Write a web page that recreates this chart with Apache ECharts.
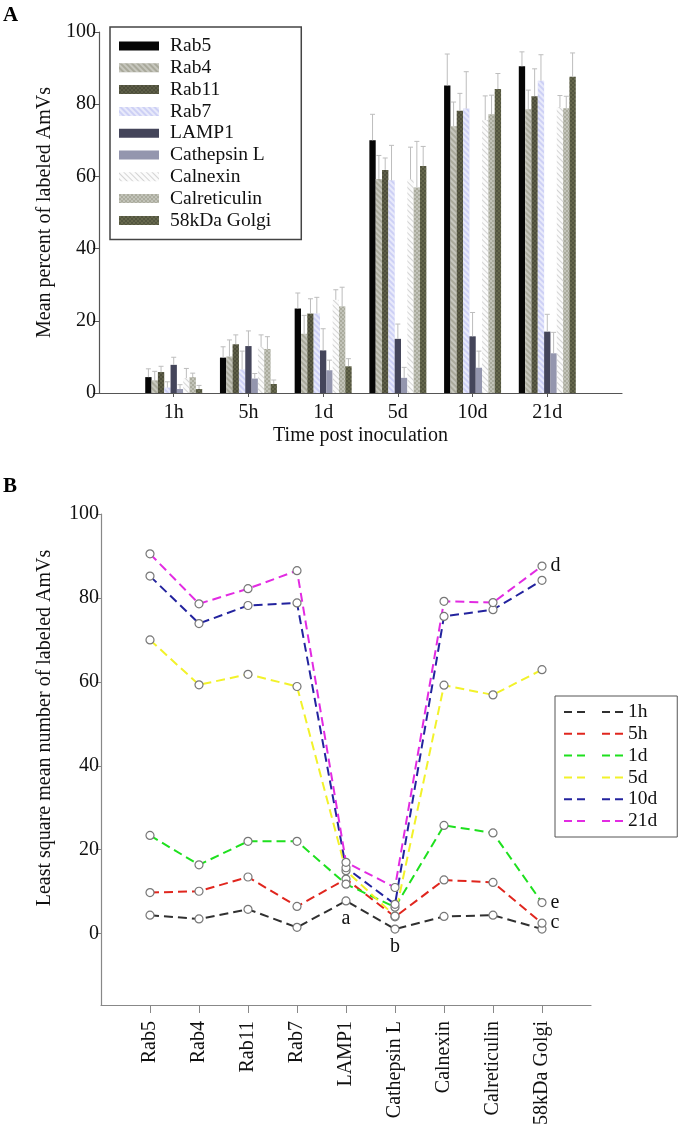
<!DOCTYPE html>
<html>
<head>
<meta charset="utf-8">
<script src="https://cdn.jsdelivr.net/npm/echarts@6/dist/echarts.min.js"></script>
<style>html,body{margin:0;padding:0;background:#fff}#c{width:678px;height:1128px}</style>
</head>
<body>
<div id="c"></div>
<script>
// ---- data ----
const markers = ['Rab5','Rab4','Rab11','Rab7','LAMP1','Cathepsin L','Calnexin','Calreticulin','58kDa Golgi'];
const times = ['1h','5h','1d','5d','10d','21d'];
const yTicks = [0, 20, 40, 60, 80, 100];
// mean values per time point, in marker order
const v1h  = [4.4, 3.5, 5.8, 1.5, 7.8, 1.1, 4.1, 4.4, 1.1];
const v5h  = [9.8, 10.1, 13.5, 6.5, 13.0, 4.0, 12.8, 12.2, 2.5];
const v1d  = [23.4, 16.4, 22.0, 22.0, 11.8, 6.3, 25.8, 24.0, 7.4];
const v5d  = [70.0, 59.3, 61.8, 58.9, 15.0, 4.2, 59.2, 56.9, 62.9];
const v10d = [85.2, 73.9, 78.2, 78.8, 15.7, 7.0, 75.6, 77.2, 84.2];
const v21d = [90.5, 78.6, 82.2, 86.5, 17.0, 11.0, 79.2, 78.9, 87.6];
// upper error bars (panel A)
const e1h  = [2.3, 2.5, 1.6, 1.6, 2.1, 1.2, 2.7, 1.1, 1.0];
const e5h  = [3.0, 4.6, 2.6, 5.1, 4.2, 1.4, 3.3, 3.4, 1.1];
const e1d  = [4.3, 5.1, 4.1, 4.5, 6.0, 2.8, 2.8, 5.3, 2.1];
const e5d  = [7.2, 6.5, 3.3, 9.7, 4.1, 2.9, 8.9, 12.8, 5.4];
const e10d = [8.7, 6.7, 4.8, 10.2, 6.6, 4.6, 6.7, 5.3, 4.3];
const e21d = [4.0, 5.3, 7.6, 7.2, 4.8, 5.8, 3.2, 3.3, 6.6];
// letter annotations in panel B: [time, marker, text]
const notes = [['1h','LAMP1','a'], ['1h','Cathepsin L','b'], ['5h','58kDa Golgi','c'], ['21d','58kDa Golgi','d'], ['1d','58kDa Golgi','e']];

// ---- build ----
const timeVals = [v1h, v5h, v1d, v5d, v10d, v21d];
const timeErrs = [e1h, e5h, e1d, e5d, e10d, e21d];
const FONT = 'Liberation Serif';
const BW = 6.33;

const barStyles = [
  {color:'#060606'},
  {color:'#a9a99b', decal:{symbol:'rect', dashArrayX:[1,0], dashArrayY:[2,2], rotation:Math.PI/4, color:'rgba(255,255,255,0.35)'}},
  {color:'#5e5f48', decal:{symbol:'rect', dashArrayX:[[2,2],[0,2,2,0]], dashArrayY:[2,0], color:'rgba(0,0,0,0.18)'}},
  {color:'#cdd0f5', decal:{symbol:'rect', dashArrayX:[1,0], dashArrayY:[2,2], rotation:Math.PI/4, color:'rgba(255,255,255,0.55)'}},
  {color:'#44455a'},
  {color:'#9496ae'},
  {color:'#fbfbfb', decal:{symbol:'rect', dashArrayX:[1,0], dashArrayY:[1,3], rotation:Math.PI/4, color:'#d4d4d4'}},
  {color:'#aaab9d', decal:{symbol:'rect', dashArrayX:[[2,2],[0,2,2,0]], dashArrayY:[2,0], color:'rgba(255,255,255,0.3)'}},
  {color:'#66684d', decal:{symbol:'rect', dashArrayX:[[2,2],[0,2,2,0]], dashArrayY:[2,0], color:'rgba(0,0,0,0.18)'}}
];
const lineColors = ['#303030', '#e0261e', '#1ee01e', '#f2f22a', '#23239e', '#e22be2'];

const catsA = [''].concat(times).concat(['']);
const catsB = [''].concat(markers).concat(['']);

const series = [];
markers.forEach((m, mi) => {
  series.push({
    name: m, type: 'bar', xAxisIndex: 0, yAxisIndex: 0,
    barWidth: BW, barGap: '0%',
    itemStyle: barStyles[mi],
    data: ['-'].concat(timeVals.map(t => t[mi])).concat(['-'])
  });
});
const errData = [];
timeVals.forEach((t, ti) => t.forEach((v, mi) => errData.push([ti + 1, mi, v, timeErrs[ti][mi]])));
series.push({
  type: 'custom', xAxisIndex: 0, yAxisIndex: 0, z: 5, silent: true,
  encode: {x: 0, y: 2},
  data: errData,
  renderItem: function (params, api) {
    const ci = api.value(0), mi = api.value(1), v = api.value(2), e = api.value(3);
    const b = api.coord([ci, v]);
    const t = api.coord([ci, v + e]);
    const x = b[0] + (mi - 4) * BW;
    const st = {stroke: '#bdbdbd', lineWidth: 1};
    return {type: 'group', children: [
      {type: 'line', shape: {x1: x, y1: b[1], x2: x, y2: t[1]}, style: st},
      {type: 'line', shape: {x1: x - 2.5, y1: t[1], x2: x + 2.5, y2: t[1]}, style: st}
    ]};
  }
});
times.forEach((tm, ti) => {
  const data = ['-'];
  timeVals[ti].forEach((v, mi) => {
    const note = notes.find(n => n[0] === tm && n[1] === markers[mi]);
    if (note) {
      const pos = (note[1] === '58kDa Golgi') ? 'right' : 'bottom';
      data.push({value: v, label: {show: true, formatter: note[2], position: pos, distance: pos === 'right' ? 4 : 3,
        fontFamily: FONT, fontSize: 20, color: '#111'}});
    } else data.push(v);
  });
  data.push('-');
  series.push({
    name: tm, type: 'line', xAxisIndex: 1, yAxisIndex: 1,
    symbol: 'circle', symbolSize: 8,
    itemStyle: {color: '#fff', borderColor: '#777', borderWidth: 1.2},
    lineStyle: {color: lineColors[ti], width: 2, type: [9, 5]},
    data: data
  });
});

const txt = {fontFamily: FONT, fontSize: 20, color: '#111'};
const ltxt = {fontFamily: FONT, fontSize: 19.5, color: '#111'};
const option = {
  animation: false,
  textStyle: {fontFamily: FONT},
  graphic: [
    {type: 'text', left: 3, top: 5, style: {text: 'A', font: 'bold 21px "Liberation Serif"', fill: '#000'}},
    {type: 'text', left: 3, top: 476, style: {text: 'B', font: 'bold 21px "Liberation Serif"', fill: '#000'}},
    {type: 'text', x: 45, y: 728, rotation: Math.PI / 2,
      style: {text: 'Least square mean number of labeled AmVs', font: '20px "Liberation Serif"', fill: '#111', align: 'center', verticalAlign: 'middle'}}
  ],
  legend: [
    {data: markers, orient: 'vertical', left: 110, top: 27, icon: 'rect', itemWidth: 40, itemHeight: 9,
      itemGap: 1.8, padding: [9, 30, 9, 9], borderColor: '#444', borderWidth: 1.5,
      textStyle: Object.assign({lineHeight: 19.4, padding: [0, 0, 0, 6]}, ltxt)},
    {data: times, orient: 'vertical', left: 555, top: 696, itemWidth: 59, itemHeight: 10,
      itemGap: 1.8, padding: [6, 20, 6, 8], borderColor: '#555', borderWidth: 1,
      itemStyle: {color: 'transparent', borderColor: 'transparent', borderWidth: 0},
      lineStyle: {type: [8, 5, 8, 17], width: 2},
      textStyle: Object.assign({lineHeight: 19.4}, ltxt)}
  ],
  grid: [
    {left: 99, right: 56, top: 32, height: 361},
    {left: 101, right: 87, top: 514, bottom: 123}
  ],
  xAxis: [
    {type: 'category', gridIndex: 0, data: catsA, boundaryGap: false,
      name: 'Time post inoculation', nameLocation: 'middle', nameGap: 33, nameTextStyle: txt,
      axisLine: {lineStyle: {color: '#555', width: 1.2}},
      axisTick: {length: 4, lineStyle: {color: '#555'}, interval: (i) => i > 0 && i < catsA.length - 1},
      axisLabel: Object.assign({margin: 10, interval: 0}, txt)},
    {type: 'category', gridIndex: 1, data: catsB, boundaryGap: false,
      axisLine: {onZero: false, lineStyle: {color: '#888', width: 1.2}},
      axisTick: {length: 8, lineStyle: {color: '#888'}, interval: (i) => i > 0 && i < catsB.length - 1},
      axisLabel: Object.assign({margin: 16, interval: 0, rotate: 90}, txt)}
  ],
  yAxis: [
    {type: 'value', gridIndex: 0, min: 0, max: 100, interval: 20,
      name: 'Mean percent of labeled AmVs', nameLocation: 'middle', nameGap: 39, nameTextStyle: txt,
      axisLine: {show: true, lineStyle: {color: '#555', width: 1.2}},
      axisTick: {show: true, length: 6, lineStyle: {color: '#555'}},
      axisLabel: Object.assign({margin: 3}, txt),
      splitLine: {show: false}},
    {type: 'value', gridIndex: 1, min: -17, max: 100,
      axisLine: {show: true, onZero: false, lineStyle: {color: '#888', width: 1.2}},
      axisTick: {show: true, length: 5, lineStyle: {color: '#888'}, customValues: yTicks},
      axisLabel: Object.assign({margin: 2, customValues: yTicks}, txt),
      splitLine: {show: false}}
  ],
  series: series
};
const chart = echarts.init(document.getElementById('c'), null, {renderer: 'canvas'});
chart.setOption(option);
</script>
</body>
</html>
